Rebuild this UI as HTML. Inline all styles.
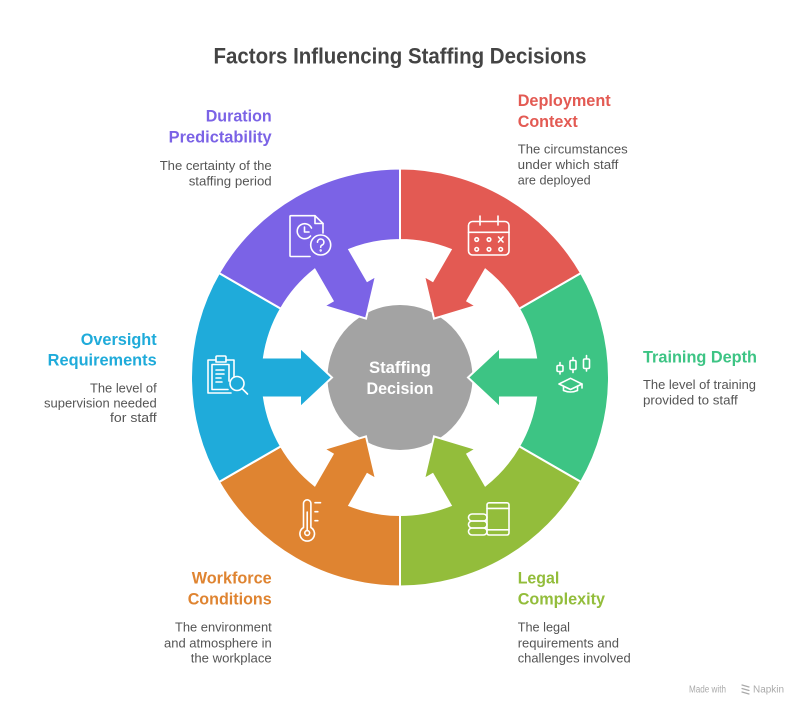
<!DOCTYPE html>
<html>
<head>
<meta charset="utf-8">
<style>
  html,body{margin:0;padding:0;background:#fff;}
  svg{display:block;}
  text{font-family:"Liberation Sans",Arial,sans-serif;}
</style>
</head>
<body>
<svg width="800" height="709" viewBox="0 0 800 709" xmlns="http://www.w3.org/2000/svg">
  <defs>
    <path id="seg" d="M181,-104.5 A209,209 0 0 1 181,104.5 L119.08,68.75 A137.5,137.5 0 0 0 136.04,20 L100,20 L100,30 L68,0 L100,-30 L100,-20 L136.04,-20 A137.5,137.5 0 0 0 119.08,-68.75 Z"/>
  </defs>

  <!-- Title -->
  <text x="400" y="63.5" text-anchor="middle" font-size="22" font-weight="bold" fill="#444" textLength="373" lengthAdjust="spacingAndGlyphs">Factors Influencing Staffing Decisions</text>

  <!-- center circle -->
  <circle cx="400" cy="377.5" r="72.5" fill="#a3a3a3"/>

  <!-- segments -->
  <g transform="translate(400,377.5)" stroke="#fff" stroke-width="2" stroke-linejoin="miter">
    <use href="#seg" fill="#3dc484" transform="rotate(0)"/>
    <use href="#seg" fill="#93bd3b" transform="rotate(60)"/>
    <use href="#seg" fill="#df8431" transform="rotate(120)"/>
    <use href="#seg" fill="#1fabda" transform="rotate(180)"/>
    <use href="#seg" fill="#7b63e6" transform="rotate(240)"/>
    <use href="#seg" fill="#e35a53" transform="rotate(300)"/>
  </g>

  <!-- center text -->
  <text x="400" y="373" text-anchor="middle" font-size="16.5" font-weight="bold" fill="#fff" textLength="62" lengthAdjust="spacingAndGlyphs">Staffing</text>
  <text x="400" y="394" text-anchor="middle" font-size="16.5" font-weight="bold" fill="#fff" textLength="67" lengthAdjust="spacingAndGlyphs">Decision</text>

  <!-- ICONS -->
  <g fill="none" stroke="#fff" stroke-width="1.6" stroke-linecap="round" stroke-linejoin="round">
    <!-- Calendar (red) -->
    <rect x="468.5" y="221.5" width="40.5" height="33.5" rx="4"/>
    <line x1="468.5" y1="232.3" x2="509" y2="232.3"/>
    <line x1="480" y1="216" x2="480" y2="225"/>
    <line x1="498" y1="216" x2="498" y2="225"/>
    <circle cx="476.7" cy="239.5" r="1.8"/>
    <circle cx="489" cy="239.5" r="1.8"/>
    <line x1="498.5" y1="237" x2="503" y2="242"/>
    <line x1="503" y1="237" x2="498.5" y2="242"/>
    <circle cx="476.7" cy="249.3" r="1.8"/>
    <circle cx="489" cy="249.3" r="1.8"/>
    <circle cx="500.7" cy="249.3" r="1.8"/>

    <!-- Purple: doc with clock and question -->
    <path d="M310,256.5 L291,256.5 Q290,256.5 290,255.5 L290,216.5 Q290,215.7 291,215.7 L315,215.7 L323,223.5 L323,233"/>
    <path d="M315,215.7 L315,223.5 L323,223.5"/>
    <path d="M310.5,236 A7.5,7.5 0 1 1 311.5,228"/>
    <polyline points="304.5,227 304.5,232 309,232"/>
    <circle cx="320.7" cy="245" r="10"/>
    <path d="M317.5,242.2 A3.2,3.2 0 1 1 321.5,245.3 Q320.7,245.8 320.7,247.2"/>
    <circle cx="320.7" cy="250.5" r="0.4" fill="#fff"/>

    <!-- Blue: clipboard + magnifier -->
    <path d="M231,393 L208,393 L208,360 L216,360"/>
    <path d="M226,360 L234,360 L234,377"/>
    <path d="M216,362 L216,357 Q216,356 217,356 L225,356 Q226,356 226,357 L226,362 Z"/>
    <path d="M229,381 L229,364.5 L212,364.5 L212,389.5 L228,389.5"/>
    <line x1="216" y1="370" x2="224" y2="370"/>
    <line x1="216" y1="374" x2="224" y2="374"/>
    <line x1="216" y1="378" x2="221" y2="378"/>
    <line x1="216" y1="382" x2="222" y2="382"/>
    <circle cx="237" cy="383.5" r="7"/>
    <line x1="242" y1="388.5" x2="247.5" y2="394"/>

    <!-- Green: candles + grad cap -->
    <line x1="560" y1="362.5" x2="560" y2="374"/>
    <rect x="557" y="365.5" width="6" height="6" rx="1.2" fill="#3dc484"/>
    <line x1="573" y1="357.5" x2="573" y2="372.5"/>
    <rect x="570" y="360.5" width="6" height="9" rx="1.2" fill="#3dc484"/>
    <line x1="586.5" y1="355.5" x2="586.5" y2="371"/>
    <rect x="583.5" y="359" width="6" height="9.5" rx="1.2" fill="#3dc484"/>
    <path d="M559,384 L570.5,378.3 L582,384 L570.5,389.5 Z"/>
    <path d="M563.5,386 L563.5,390.5 Q570.5,393.5 577.5,390.5 L577.5,386"/>
    <line x1="582" y1="384" x2="582" y2="388"/>

    <!-- Orange: thermometer -->
    <path d="M303.5,527.5 L303.5,503.5 A3.7,3.7 0 0 1 310.9,503.5 L310.9,527.5 A7.3,7.3 0 1 1 303.5,527.5 Z"/>
    <circle cx="307.2" cy="533" r="2.4"/>
    <line x1="307.2" y1="512" x2="307.2" y2="530.5"/>
    <line x1="315" y1="502.7" x2="320.5" y2="502.7"/>
    <line x1="315" y1="511.7" x2="317.8" y2="511.7"/>
    <line x1="315" y1="520.7" x2="317.8" y2="520.7"/>

    <!-- Yellow-green: coins + box -->
    <rect x="487" y="502.8" width="22" height="32.2" rx="2"/>
    <line x1="487" y1="508.4" x2="509" y2="508.4"/>
    <line x1="487" y1="529.8" x2="509" y2="529.8"/>
    <rect x="468.5" y="514" width="18.5" height="7" rx="3.5"/>
    <rect x="468.5" y="521" width="18.5" height="7" rx="3.5"/>
    <rect x="468.5" y="528" width="18.5" height="7" rx="3.5"/>
  </g>

  <!-- Duration Predictability -->
  <g font-weight="bold" font-size="16.3" fill="#7b63e6" text-anchor="end">
    <text x="271.7" y="121.7" textLength="66" lengthAdjust="spacingAndGlyphs">Duration</text>
    <text x="271.7" y="142.7" textLength="103" lengthAdjust="spacingAndGlyphs">Predictability</text>
  </g>
  <g font-size="13.3" fill="#555" text-anchor="end">
    <text x="271.7" y="169.8" textLength="112" lengthAdjust="spacingAndGlyphs">The certainty of the</text>
    <text x="271.7" y="185.3" textLength="83" lengthAdjust="spacingAndGlyphs">staffing period</text>
  </g>

  <!-- Deployment Context -->
  <g font-weight="bold" font-size="16.3" fill="#e35a53">
    <text x="517.7" y="106" textLength="93" lengthAdjust="spacingAndGlyphs">Deployment</text>
    <text x="517.7" y="127" textLength="60" lengthAdjust="spacingAndGlyphs">Context</text>
  </g>
  <g font-size="13.3" fill="#555">
    <text x="517.7" y="153.5" textLength="110" lengthAdjust="spacingAndGlyphs">The circumstances</text>
    <text x="517.7" y="169.1" textLength="100.6" lengthAdjust="spacingAndGlyphs">under which staff</text>
    <text x="517.7" y="184.6" textLength="73" lengthAdjust="spacingAndGlyphs">are deployed</text>
  </g>

  <!-- Oversight Requirements -->
  <g font-weight="bold" font-size="16.3" fill="#1fabda" text-anchor="end">
    <text x="156.7" y="345" textLength="76" lengthAdjust="spacingAndGlyphs">Oversight</text>
    <text x="156.7" y="365.5" textLength="109" lengthAdjust="spacingAndGlyphs">Requirements</text>
  </g>
  <g font-size="13.3" fill="#555" text-anchor="end">
    <text x="156.7" y="392.6" textLength="66.7" lengthAdjust="spacingAndGlyphs">The level of</text>
    <text x="156.7" y="407.3" textLength="112.7" lengthAdjust="spacingAndGlyphs">supervision needed</text>
    <text x="156.7" y="421.8" textLength="46.7" lengthAdjust="spacingAndGlyphs">for staff</text>
  </g>

  <!-- Training Depth -->
  <text x="643" y="362.7" font-weight="bold" font-size="16.3" fill="#3dc484" textLength="114" lengthAdjust="spacingAndGlyphs">Training Depth</text>
  <g font-size="13.3" fill="#555">
    <text x="643" y="389.2" textLength="113" lengthAdjust="spacingAndGlyphs">The level of training</text>
    <text x="643" y="404.3" textLength="94.7" lengthAdjust="spacingAndGlyphs">provided to staff</text>
  </g>

  <!-- Workforce Conditions -->
  <g font-weight="bold" font-size="16.3" fill="#df8431" text-anchor="end">
    <text x="271.7" y="583.4" textLength="80" lengthAdjust="spacingAndGlyphs">Workforce</text>
    <text x="271.7" y="604.4" textLength="84" lengthAdjust="spacingAndGlyphs">Conditions</text>
  </g>
  <g font-size="13.3" fill="#555" text-anchor="end">
    <text x="271.7" y="631.7" textLength="96.7" lengthAdjust="spacingAndGlyphs">The environment</text>
    <text x="271.7" y="647.3" textLength="107.7" lengthAdjust="spacingAndGlyphs">and atmosphere in</text>
    <text x="271.7" y="662.4" textLength="81" lengthAdjust="spacingAndGlyphs">the workplace</text>
  </g>

  <!-- Legal Complexity -->
  <g font-weight="bold" font-size="16.3" fill="#93bd3b">
    <text x="517.7" y="583.4" textLength="41.6" lengthAdjust="spacingAndGlyphs">Legal</text>
    <text x="517.7" y="604.4" textLength="87.3" lengthAdjust="spacingAndGlyphs">Complexity</text>
  </g>
  <g font-size="13.3" fill="#555">
    <text x="517.7" y="631.7" textLength="52.3" lengthAdjust="spacingAndGlyphs">The legal</text>
    <text x="517.7" y="647.3" textLength="101.3" lengthAdjust="spacingAndGlyphs">requirements and</text>
    <text x="517.7" y="662.4" textLength="113" lengthAdjust="spacingAndGlyphs">challenges involved</text>
  </g>

  <!-- Made with Napkin -->
  <g fill="#aaa" font-size="10">
    <text x="689" y="692.5" textLength="37" lengthAdjust="spacingAndGlyphs">Made with</text>
    <text x="753" y="692.5" textLength="31" lengthAdjust="spacingAndGlyphs">Napkin</text>
  </g>
  <g stroke="#aaa" stroke-width="1.2" fill="none" stroke-linecap="round">
    <path d="M742,685 L749,687 M742,688.5 L749,690.5 M742,692 L749,694"/>
  </g>
</svg>
</body>
</html>
